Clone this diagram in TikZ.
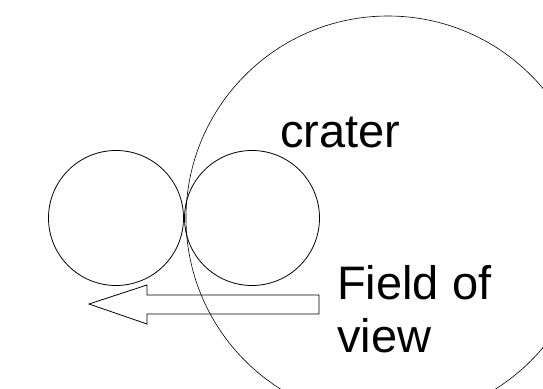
\documentclass[tikz,border=0pt]{standalone}
\usepackage{fontspec}
\setmainfont{Liberation Sans}
\usetikzlibrary{positioning}
\tikzset{
    % thin black outlines
    ring/.style={
        circle,
        draw=black,
        line width=0.8pt,
        inner sep=0pt,
        minimum size=135pt
    },
    bigring/.style={
        ring,
        line width=0.6pt,
        minimum size=404pt
    },
    lbl/.style={
        font=\fontsize{47}{53}\selectfont,
        anchor=base west,
        inner sep=0pt,
        align=left
    },
    fovarrow/.style={
        draw=black,
        line width=0.8pt,
        line join=miter
    }
}
\begin{document}
\begin{tikzpicture}[x=1pt, y=-1pt]
    \useasboundingbox (0,0) rectangle (543,388);

    \node[bigring] (crater) at (388,218) {};

    \node[ring] (fovA) at (116,218) {};
    \node[ring] (fovB) at (252,218) {};

    \draw[fovarrow] (319,295) -- (147,295) -- (147,285) -- (89,304)
        -- (147,324) -- (147,314) -- (319,314) -- cycle;

    \node[lbl] (craterlbl) at (280,147) {crater};
    % base anchor sits on the last line here
    \node[lbl] (fovlbl) at (337,352) {Field of\\view};
\end{tikzpicture}
\end{document}
